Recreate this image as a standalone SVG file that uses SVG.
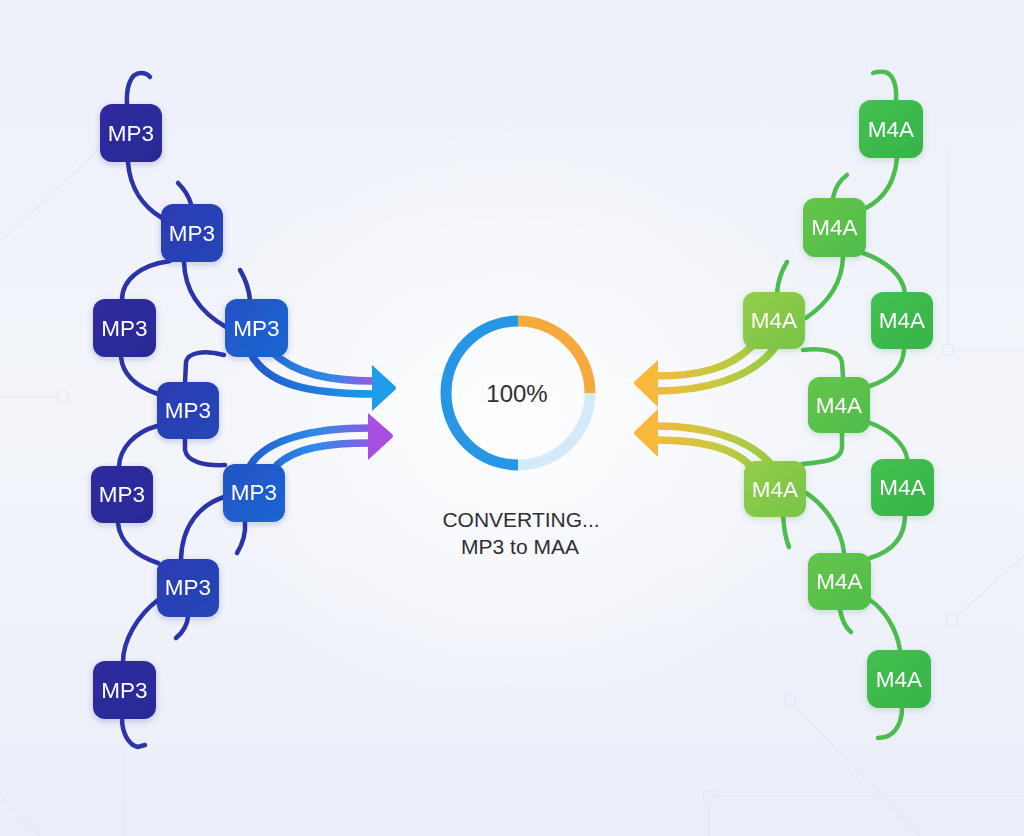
<svg xmlns="http://www.w3.org/2000/svg" width="1024" height="836" viewBox="0 0 1024 836">
<defs>
<linearGradient id="bg" x1="0" y1="0" x2="0" y2="1">
<stop offset="0" stop-color="#edf0f9"/>
<stop offset="0.5" stop-color="#f3f5fb"/>
<stop offset="1" stop-color="#eaeef8"/>
</linearGradient>
<radialGradient id="glow" cx="0.5" cy="0.5" r="0.5">
<stop offset="0" stop-color="#ffffff" stop-opacity="0.9"/>
<stop offset="1" stop-color="#ffffff" stop-opacity="0"/>
</radialGradient>
<linearGradient id="gDark" x1="0" y1="0" x2="1" y2="1">
<stop offset="0" stop-color="#2f2ca0"/>
<stop offset="1" stop-color="#282896"/>
</linearGradient>
<linearGradient id="gMid" x1="0" y1="0" x2="1" y2="1">
<stop offset="0" stop-color="#2a3cb2"/>
<stop offset="1" stop-color="#2646b8"/>
</linearGradient>
<linearGradient id="gBlue" x1="0" y1="0" x2="1" y2="1">
<stop offset="0" stop-color="#2352c4"/>
<stop offset="1" stop-color="#1c66d4"/>
</linearGradient>
<linearGradient id="gGreen" x1="0" y1="0" x2="1" y2="1">
<stop offset="0" stop-color="#45bf50"/>
<stop offset="1" stop-color="#35b449"/>
</linearGradient>
<linearGradient id="gGreenMid" x1="0" y1="0" x2="1" y2="1">
<stop offset="0" stop-color="#66c54c"/>
<stop offset="1" stop-color="#4fbd4b"/>
</linearGradient>
<linearGradient id="gLime" x1="0" y1="0" x2="1" y2="1">
<stop offset="0" stop-color="#94cd4a"/>
<stop offset="1" stop-color="#78c448"/>
</linearGradient>
<linearGradient id="aBlue" gradientUnits="userSpaceOnUse" x1="250" y1="0" x2="380" y2="0">
<stop offset="0" stop-color="#2258cc"/>
<stop offset="1" stop-color="#1aa0ee"/>
</linearGradient>
<linearGradient id="aPurple" gradientUnits="userSpaceOnUse" x1="250" y1="0" x2="380" y2="0">
<stop offset="0" stop-color="#2563d4"/>
<stop offset="0.6" stop-color="#2e8ae6"/>
<stop offset="1" stop-color="#b04ee0"/>
</linearGradient>
<linearGradient id="aPurple2" gradientUnits="userSpaceOnUse" x1="250" y1="0" x2="380" y2="0">
<stop offset="0" stop-color="#2260d0"/>
<stop offset="0.5" stop-color="#2c8ce8"/>
<stop offset="1" stop-color="#9d52e6"/>
</linearGradient>
<linearGradient id="aOrange" gradientUnits="userSpaceOnUse" x1="780" y1="0" x2="650" y2="0">
<stop offset="0" stop-color="#8fcb46"/>
<stop offset="0.5" stop-color="#c8c840"/>
<stop offset="1" stop-color="#f8b83a"/>
</linearGradient>
<filter id="shadow" x="-30%" y="-30%" width="160%" height="170%">
<feDropShadow dx="0" dy="2" stdDeviation="3" flood-color="#1e2a70" flood-opacity="0.22"/>
</filter>
<filter id="gshadow" x="-30%" y="-30%" width="160%" height="170%">
<feDropShadow dx="0" dy="2" stdDeviation="3" flood-color="#2a7a30" flood-opacity="0.2"/>
</filter>
<style>
.lc{fill:none;stroke:#2b34a8;stroke-width:4.5;stroke-linecap:round}
.rc{fill:none;stroke:#4dbd4f;stroke-width:4.5;stroke-linecap:round}
.band{fill:none;stroke-width:7.5;stroke-linecap:butt}
.deco{fill:none;stroke:#e2e7f2;stroke-width:1.2}
.lbl{font-family:"Liberation Sans",Arial,sans-serif;font-size:22.5px;fill:#ffffff;text-anchor:middle;dominant-baseline:central}
.ctr{font-family:"Liberation Sans",Arial,sans-serif;fill:#2f2f35;text-anchor:middle}
</style>
</defs>
<rect width="1024" height="836" fill="url(#bg)"/>
<ellipse cx="512" cy="420" rx="330" ry="300" fill="url(#glow)"/>
<g id="decor">
<path class="deco" d="M0 242 L98 150"/>
<path class="deco" d="M0 397 L57 397"/>
<circle class="deco" cx="63" cy="397" r="6"/>
<path class="deco" d="M948 150 L948 344"/>
<circle class="deco" cx="948" cy="350" r="6"/>
<path class="deco" d="M954 350 L1024 350"/>
<circle class="deco" cx="952" cy="620" r="6"/>
<path class="deco" d="M957 616 L1024 556"/>
<circle class="deco" cx="790" cy="700" r="6"/>
<path class="deco" d="M794 705 L920 836"/>
<circle class="deco" cx="709" cy="796" r="6"/>
<path class="deco" d="M715 796 L1024 796"/>
<path class="deco" d="M709 802 L709 836"/>
<path class="deco" d="M124 752 L124 836"/>
<path class="deco" d="M0 795 L40 836"/>
</g>
<g id="connectors">
<path class="lc" d="M127 105 C126 88 130 73 141 73 Q147 73 150 77"/>
<path class="lc" d="M128 162 C130 190 145 208 162 218"/>
<path class="lc" d="M178 183 C185 190 189 197 191 204"/>
<path class="lc" d="M170 261 C140 265 122 280 122 300"/>
<path class="lc" d="M184 262 C185 295 205 315 226 327"/>
<path class="lc" d="M240 270 C246 280 249 290 250 300"/>
<path class="lc" d="M121 357 C123 377 140 388 158 394"/>
<path class="lc" d="M224 355 C205 350 188 352 186 362 L185 383"/>
<path class="lc" d="M157 426 C135 432 120 448 119 466"/>
<path class="lc" d="M185 438 L185 450 C187 462 205 466 225 465"/>
<path class="lc" d="M118 523 C120 545 140 557 158 563"/>
<path class="lc" d="M224 497 C200 505 182 525 181 559"/>
<path class="lc" d="M245 522 C246 535 242 545 237 553"/>
<path class="lc" d="M188 617 C187 627 182 633 176 638"/>
<path class="lc" d="M158 600 C138 615 123 640 123 662"/>
<path class="lc" d="M122 718 C122 732 128 745 138 747 L145 745"/>

<path class="rc" d="M896 100 C897 85 893 74 885 72 Q878 71 873 73"/>
<path class="rc" d="M897 158 C895 180 885 198 866 208"/>
<path class="rc" d="M833 198 C835 188 840 180 847 175"/>
<path class="rc" d="M843 257 C842 285 825 305 806 318"/>
<path class="rc" d="M860 252 C885 260 903 275 905 293"/>
<path class="rc" d="M777 293 C778 280 782 270 787 262"/>
<path class="rc" d="M803 350 C820 348 840 350 842 362 L843 377"/>
<path class="rc" d="M904 349 C903 370 888 380 870 386"/>
<path class="rc" d="M842 432 L842 448 C841 460 825 462 802 464"/>
<path class="rc" d="M870 423 C890 430 905 445 907 458"/>
<path class="rc" d="M806 493 C825 505 842 530 844 553"/>
<path class="rc" d="M783 515 C784 530 786 540 789 547"/>
<path class="rc" d="M905 515 C905 540 890 552 870 558"/>
<path class="rc" d="M840 610 C842 620 846 628 851 632"/>
<path class="rc" d="M870 600 C885 610 897 630 900 650"/>
<path class="rc" d="M902 708 C902 722 896 734 885 737 L878 738"/>

<path class="band" stroke="url(#aBlue)" d="M250 352 C266 385 310 394 374 394"/>
<path class="band" stroke="url(#aPurple)" d="M272 352 C295 374 330 381 374 381"/>
<path d="M372 365 L395 386 Q397 388 395 390 L372 411 Z" fill="#1e9ce9"/>

<path class="band" stroke="url(#aPurple2)" d="M250 466 C265 440 310 428 370 428"/>
<path class="band" stroke="url(#aPurple2)" d="M276 466 C295 447 330 443 370 443"/>
<path d="M368 413 L392 434 Q394 436 392 438 L368 460 Z" fill="#a74fe2"/>

<path class="band" stroke="url(#aOrange)" d="M752 346 C730 368 700 376 656 376"/>
<path class="band" stroke="url(#aOrange)" d="M776 346 C752 380 700 391 656 391"/>
<path d="M658 360 L635 381 Q633 383 635 385 L658 407 Z" fill="#f8b83a"/>

<path class="band" stroke="url(#aOrange)" d="M774 468 C750 436 700 426 656 426"/>
<path class="band" stroke="url(#aOrange)" d="M752 468 C735 447 700 440 656 440"/>
<path d="M658 409 L635 431 Q633 433 635 435 L658 457 Z" fill="#f8b83a"/>
</g>
<g id="mp3-1" filter="url(#shadow)"><rect x="100" y="104" width="62" height="58" rx="12" fill="url(#gDark)"/><text class="lbl" x="131" y="133">MP3</text></g>
<g id="mp3-2" filter="url(#shadow)"><rect x="161" y="204" width="62" height="58" rx="12" fill="url(#gMid)"/><text class="lbl" x="192" y="233">MP3</text></g>
<g id="mp3-3" filter="url(#shadow)"><rect x="93" y="299" width="63" height="58" rx="12" fill="url(#gDark)"/><text class="lbl" x="124.5" y="328">MP3</text></g>
<g id="mp3-4" filter="url(#shadow)"><rect x="225" y="299" width="63" height="58" rx="12" fill="url(#gBlue)"/><text class="lbl" x="256.5" y="328">MP3</text></g>
<g id="mp3-5" filter="url(#shadow)"><rect x="157" y="382" width="62" height="57" rx="12" fill="url(#gMid)"/><text class="lbl" x="188" y="410">MP3</text></g>
<g id="mp3-6" filter="url(#shadow)"><rect x="91" y="466" width="62" height="57" rx="12" fill="url(#gDark)"/><text class="lbl" x="122" y="494">MP3</text></g>
<g id="mp3-7" filter="url(#shadow)"><rect x="223" y="464" width="62" height="58" rx="12" fill="url(#gBlue)"/><text class="lbl" x="254" y="492">MP3</text></g>
<g id="mp3-8" filter="url(#shadow)"><rect x="157" y="559" width="62" height="58" rx="12" fill="url(#gMid)"/><text class="lbl" x="188" y="587">MP3</text></g>
<g id="mp3-9" filter="url(#shadow)"><rect x="93" y="661" width="63" height="58" rx="12" fill="url(#gDark)"/><text class="lbl" x="124.5" y="690">MP3</text></g>

<g id="m4a-1" filter="url(#gshadow)"><rect x="859" y="100" width="64" height="58" rx="12" fill="url(#gGreen)"/><text class="lbl" x="891" y="129">M4A</text></g>
<g id="m4a-2" filter="url(#gshadow)"><rect x="803" y="198" width="63" height="59" rx="12" fill="url(#gGreenMid)"/><text class="lbl" x="834.5" y="227">M4A</text></g>
<g id="m4a-3" filter="url(#gshadow)"><rect x="743" y="292" width="62" height="57" rx="12" fill="url(#gLime)"/><text class="lbl" x="774" y="320">M4A</text></g>
<g id="m4a-4" filter="url(#gshadow)"><rect x="871" y="292" width="62" height="57" rx="12" fill="url(#gGreen)"/><text class="lbl" x="902" y="320">M4A</text></g>
<g id="m4a-5" filter="url(#gshadow)"><rect x="808" y="377" width="62" height="56" rx="12" fill="url(#gGreenMid)"/><text class="lbl" x="839" y="405">M4A</text></g>
<g id="m4a-6" filter="url(#gshadow)"><rect x="744" y="461" width="62" height="56" rx="12" fill="url(#gLime)"/><text class="lbl" x="775" y="489">M4A</text></g>
<g id="m4a-7" filter="url(#gshadow)"><rect x="871" y="459" width="63" height="57" rx="12" fill="url(#gGreen)"/><text class="lbl" x="902.5" y="487">M4A</text></g>
<g id="m4a-8" filter="url(#gshadow)"><rect x="808" y="553" width="63" height="57" rx="12" fill="url(#gGreenMid)"/><text class="lbl" x="839.5" y="581">M4A</text></g>
<g id="m4a-9" filter="url(#gshadow)"><rect x="867" y="650" width="64" height="58" rx="12" fill="url(#gGreen)"/><text class="lbl" x="899" y="679">M4A</text></g>

<g id="progress">
<path d="M518 465 A72 72 0 0 1 518 321" fill="none" stroke="#2597e6" stroke-width="11"/>
<path d="M518 321 A72 72 0 0 1 590 393" fill="none" stroke="#f6aa3c" stroke-width="11"/>
<path d="M590 393 A72 72 0 0 1 518 465" fill="none" stroke="#d4eafa" stroke-width="11"/>
<text class="ctr" x="517" y="402" font-size="24">100%</text>
</g>
<g id="status">
<text class="ctr" x="521" y="527" font-size="21">CONVERTING...</text>
<text class="ctr" x="520" y="554" font-size="21">MP3 to MAA</text>
</g>
</svg>
